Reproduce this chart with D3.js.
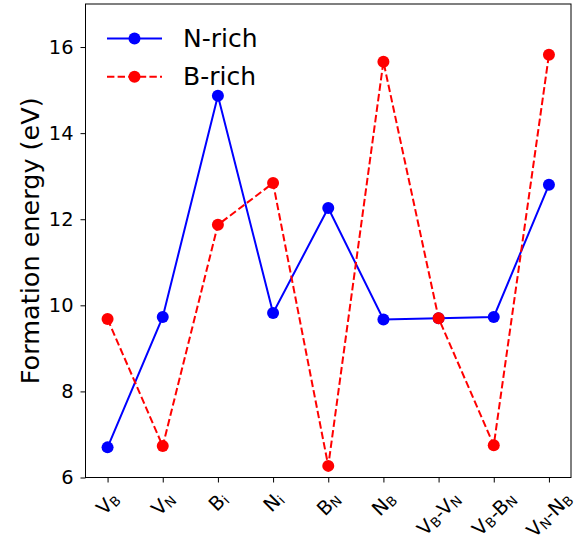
<!DOCTYPE html>
<html><head><meta charset="utf-8">
<script src="https://cdn.jsdelivr.net/npm/d3@7"></script>
<style>body{margin:0;background:#fff}svg{display:block}text{font-family:"DejaVu Sans",sans-serif}</style>
</head><body>
<svg id="c" width="587" height="541"></svg>
<script>
// categories: [text, kind] parts
const categories = [
  [["V",""],["B","sub"]],
  [["V",""],["N","sub"]],
  [["B",""],["i","sub"]],
  [["N",""],["i","sub"]],
  [["B",""],["N","sub"]],
  [["N",""],["B","sub"]],
  [["V",""],["B","sub"],["-V",""],["N","sub"]],
  [["V",""],["B","sub"],["-B",""],["N","sub"]],
  [["V",""],["N","sub"],["-N",""],["B","sub"]]
];
const nRich = [6.70, 9.73, 14.87, 9.82, 12.26, 9.67, 9.70, 9.73, 12.80];
const bRich = [9.68, 6.73, 11.87, 12.84, 6.27, 15.66, 9.70, 6.75, 15.82];
const yTicks = [6, 8, 10, 12, 14, 16];
const seriesNames = ["N-rich", "B-rich"];

const svg = d3.select("#c");
const L = 85.5, R = 571, T = 4, B = 477.5;
const x = d3.scaleLinear().domain([-0.4, 8.4]).range([L, R]);
const y = d3.scaleLinear().domain([6, 17]).range([B, T]);

// y axis
const yAxis = svg.append("g").attr("transform", `translate(${L},0)`)
  .call(d3.axisLeft(y).tickValues(yTicks).tickFormat(d3.format("d")).tickSize(5).tickPadding(7));
yAxis.select(".domain").remove();
yAxis.selectAll("text").attr("font-size", 19.4).attr("fill", "#000").attr("font-family", "DejaVu Sans");
yAxis.selectAll("line").attr("stroke", "#000").attr("stroke-width", 1);

// x axis ticks
const xAxis = svg.append("g").attr("transform", `translate(0,${B})`)
  .call(d3.axisBottom(x).tickValues(d3.range(categories.length)).tickFormat("").tickSize(5));
xAxis.select(".domain").remove();
xAxis.selectAll("line").attr("stroke", "#000").attr("stroke-width", 1);

// x tick labels rotated 45
const labelTop = B + 5 + 7;
categories.forEach((parts, i) => {
  const g = svg.append("g");
  const t = g.append("text").attr("font-size", 19.4).attr("text-anchor", "middle")
    .attr("dominant-baseline", "central").attr("fill", "#000");
  let acc = 0;
  parts.forEach(p => {
    const want = p[1] === "sub" ? 4 : 0;
    const ts = t.append("tspan").text(p[0]).attr("dy", want - acc);
    if (p[1] === "sub") ts.attr("font-size", 13.5);
    acc = want;
  });
  const bb = t.node().getBBox();
  const w = bb.width, h = 16;
  const off = (w + h) / (2 * Math.SQRT2);
  g.attr("transform", `translate(${x(i)},${labelTop + off}) rotate(-45)`);
});

// frame
svg.append("rect").attr("x", L).attr("y", T).attr("width", R - L).attr("height", B - T)
  .attr("fill", "none").attr("stroke", "#000").attr("stroke-width", 1);

// y label
svg.append("text").attr("transform", `translate(30,${(T + B) / 2}) rotate(-90)`)
  .attr("text-anchor", "middle").attr("dominant-baseline", "central")
  .attr("font-size", 25.5).attr("fill", "#000").text("Formation energy (eV)");

const line = d3.line().x((d, i) => x(i)).y(d => y(d));
const series = [
  {name: seriesNames[0], data: nRich, color: "#0000ff", dash: null},
  {name: seriesNames[1], data: bRich, color: "#ff0000", dash: "7.4,3.2"}
];
series.forEach(s => {
  svg.append("path").datum(s.data).attr("d", line).attr("fill", "none")
    .attr("stroke", s.color).attr("stroke-width", 2).attr("stroke-dasharray", s.dash);
  svg.append("g").selectAll("circle").data(s.data).join("circle")
    .attr("cx", (d, i) => x(i)).attr("cy", d => y(d)).attr("r", 6).attr("fill", s.color);
});

// legend
series.forEach((s, k) => {
  const ly = 38.5 + k * 38.3;
  svg.append("line").attr("x1", 107).attr("x2", 162).attr("y1", ly).attr("y2", ly)
    .attr("stroke", s.color).attr("stroke-width", 2).attr("stroke-dasharray", s.dash);
  svg.append("circle").attr("cx", 134.5).attr("cy", ly).attr("r", 6).attr("fill", s.color);
  svg.append("text").attr("x", 183).attr("y", ly).attr("dominant-baseline", "central")
    .attr("font-size", 25).attr("fill", "#000").text(s.name);
});
</script>
</body></html>
